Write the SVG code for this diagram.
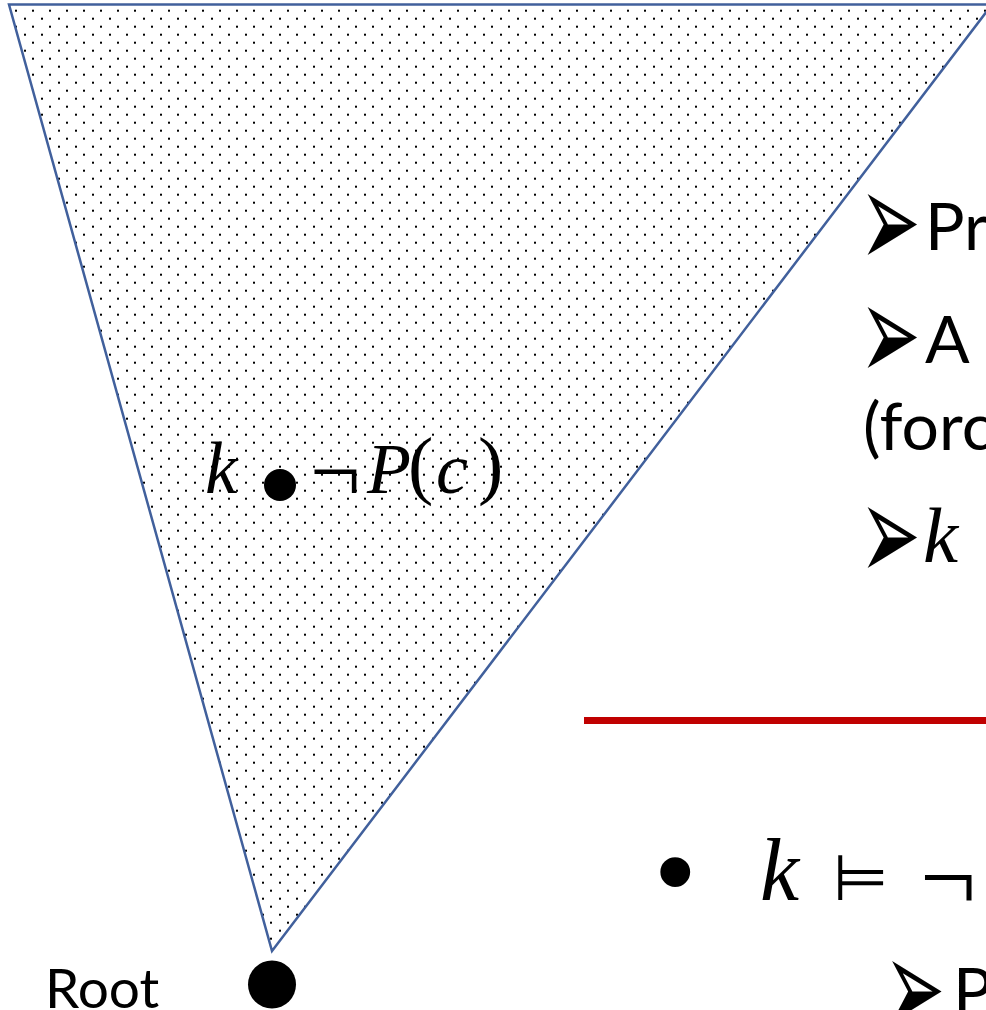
<svg xmlns="http://www.w3.org/2000/svg" width="986" height="1010" viewBox="0 0 986 1010">
<defs>
<pattern id="dots" patternUnits="userSpaceOnUse" x="0" y="0" width="17" height="16">
<rect x="15" y="9.7" width="2" height="2" fill="#000"/>
<rect x="7" y="1.7" width="2" height="2" fill="#000"/>
</pattern>
<style>
.sans{font-family:Lato,"Liberation Sans",sans-serif;fill:#000}
.arr{font-family:"DejaVu Sans",sans-serif;fill:#000;font-size:73px}
.math{font-family:"Liberation Serif","DejaVu Serif",serif;fill:#000}
.it{font-style:italic}
.tri{fill:url(#dots);stroke:#41609C;stroke-width:2.5;stroke-linejoin:miter}
</style>
</defs>
<rect width="986" height="1010" fill="#fff"/>
<g id="tree">
<path class="tri" d="M9,4.5 L992,4.5 L272,951 Z"/>
</g>
<g id="node-k">
<circle cx="280" cy="485" r="16" fill="#000"/>
<text class="math it" x="205" y="493" font-size="73">k</text>
<text class="math" font-size="90" x="310" y="502">¬</text>
<text class="math it" font-size="72" x="367" y="493">P</text>
<text class="math" font-size="76" x="408" y="490">(</text>
<text class="math it" font-size="72" x="436" y="493">c</text>
<text class="math" font-size="76" x="478" y="490">)</text>
</g>
<g id="root">
<circle cx="272" cy="984.5" r="24" fill="#000"/>
<text class="sans" x="45" y="1008" font-size="55">Root</text>
</g>
<g id="bullets">
<text class="arr" transform="translate(859.5,267.5) scale(1,1.9)">➢</text>
<text class="sans" x="925" y="250" font-size="66">Pr</text>
<text class="arr" transform="translate(859.5,381) scale(1,1.9)">➢</text>
<text class="sans" x="925" y="363" font-size="66">A</text>
<text class="sans" x="863" y="450" font-size="66">(forc</text>
<text class="arr" transform="translate(859.5,580.5) scale(1,1.9)">➢</text>
<text class="math it" x="923" y="562" font-size="79">k</text>
</g>
<g id="connectors">
<line x1="584" y1="720.5" x2="986" y2="720.5" stroke="#C00000" stroke-width="7"/>
</g>
<g id="entail">
<text x="656" y="908" font-size="110" font-family="Liberation Sans, sans-serif">•</text>
<text class="math it" x="760" y="900" font-size="88">k</text>
<text class="arr" x="833" y="900" style="font-size:64px">⊨</text>
<text class="math" x="920" y="911" font-size="100">¬</text>
<text class="arr" transform="translate(884,1034.5) scale(1,1.9)">➢</text>
<text class="sans" x="953" y="1015" font-size="66">P</text>
</g>
</svg>
